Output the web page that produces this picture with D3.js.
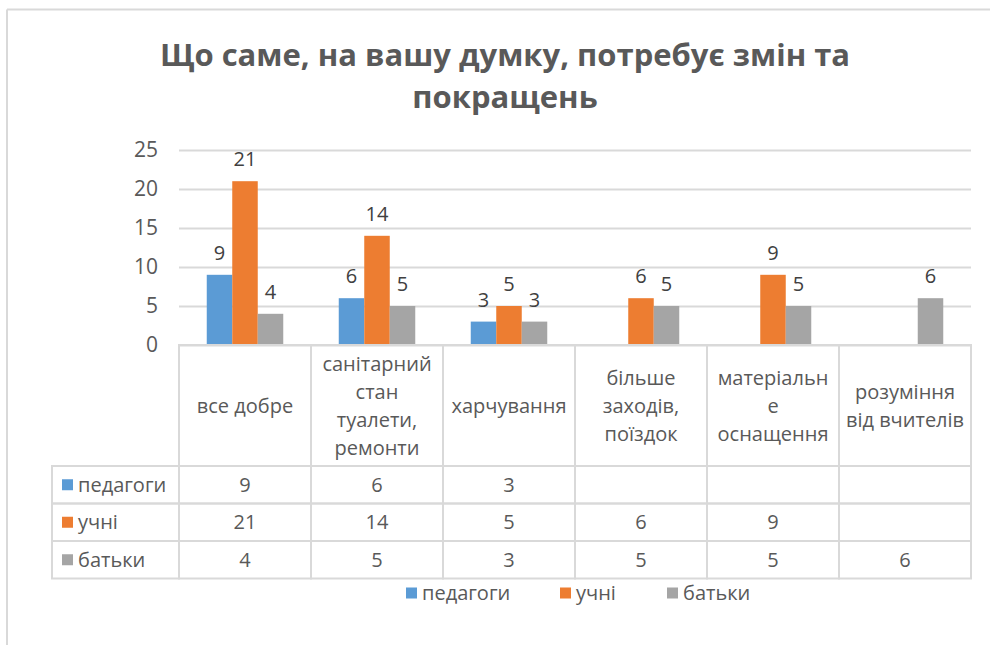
<!DOCTYPE html>
<html>
<head>
<meta charset="utf-8">
<script src="https://d3js.org/d3.v7.min.js"></script>
<style>
    body { margin: 0; background: #fff; font-family: 'Open Sans', sans-serif; }
    svg text { font-family: 'Open Sans', sans-serif; }
</style>
</head>
<body>
<div id="chart"></div>
<script>
// --- data ---
const categories = ["все добре", "санітарний\nстан\nтуалети,\nремонти", "харчування",
    "більше\nзаходів,\nпоїздок", "матеріальн\nе\nоснащення", "розуміння\nвід вчителів"]
const seriesNames = ["педагоги", "учні", "батьки"]
const pedagogy = [9, 6, 3, null, null, null]
const pupils = [21, 14, 5, 6, 9, null]
const parents = [4, 5, 3, 5, 5, 6]
const yTicks = [0, 5, 10, 15, 20, 25]
const titleLines = ["Що саме, на вашу думку, потребує змін та", "покращень"]

const seriesValues = [pedagogy, pupils, parents]
const colors = ["#5b9bd5", "#ed7d31", "#a5a5a5"]

const W = 990, H = 645
const svg = d3.select("#chart").append("svg")
    .attr("width", W).attr("height", H)

// outer frame (only top and left edges are visible in the original)
svg.append("line").attr("x1", 7).attr("x2", W).attr("y1", 9.5).attr("y2", 9.5)
    .attr("stroke", "#d9d9d9").attr("stroke-width", 2)
svg.append("line").attr("x1", 7).attr("x2", 7).attr("y1", 9.5).attr("y2", H)
    .attr("stroke", "#d9d9d9").attr("stroke-width", 2)

// title
svg.selectAll(".title").data(titleLines).enter().append("text")
    .attr("class", "title")
    .attr("x", 505).attr("y", (d, i) => 66 + i * 42)
    .attr("text-anchor", "middle")
    .style("font-size", "31px").style("font-weight", "bold")
    .attr("fill", "#595959")
    .text(d => d)

// scales
const x0 = d3.scaleBand().domain(categories).range([179, 971])
const barW = 25.5
const x1 = d3.scaleBand().domain(seriesNames)
    .range([(x0.bandwidth() - barW * 3) / 2, (x0.bandwidth() + barW * 3) / 2])
const y = d3.scaleLinear().domain([0, 25]).range([345, 150])

// grid
const yAxis = svg.append("g")
    .attr("transform", "translate(179,0)")
    .call(d3.axisLeft(y).tickValues(yTicks).tickSize(-(971 - 179)).tickPadding(21))
yAxis.select(".domain").remove()
yAxis.selectAll(".tick line").attr("stroke", "#d9d9d9").attr("stroke-width", 2)
yAxis.selectAll(".tick text").attr("fill", "#595959").style("font-size", "21px")
    .style("font-family", "'Open Sans', sans-serif")

// bars
const groups = svg.selectAll(".grp").data(categories).enter().append("g")
    .attr("transform", d => `translate(${x0(d)},0)`)

groups.each(function(cat, ci) {
    const g = d3.select(this)
    const vals = seriesNames.map((s, si) => ({s, si, v: seriesValues[si][ci]}))
        .filter(d => d.v != null)
    g.selectAll("rect").data(vals).enter().append("rect")
        .attr("x", d => x1(d.s))
        .attr("width", x1.bandwidth())
        .attr("y", d => y(d.v))
        .attr("height", d => y(0) - y(d.v))
        .attr("fill", d => colors[d.si])
    g.selectAll(".lbl").data(vals).enter().append("text")
        .attr("class", "lbl")
        .attr("x", d => x1(d.s) + x1.bandwidth() / 2)
        .attr("y", d => y(d.v) - 15)
        .attr("text-anchor", "middle")
        .attr("fill", "#404040")
        .style("font-size", "20px")
        .text(d => d.v)
})

// data table
const headTop = 345, headBot = 466, rowH = 37.5
const tableLeft = 52
const tbl = svg.append("g")
const border = "#d9d9d9"

// header cells
categories.forEach(c => {
    tbl.append("rect").attr("x", x0(c)).attr("y", headTop)
        .attr("width", x0.bandwidth()).attr("height", headBot - headTop)
        .attr("fill", "none").attr("stroke", border).attr("stroke-width", 2)
    const lines = c.split("\n")
    const lh = 28
    const cy = (headTop + headBot) / 2 - (lines.length - 1) * lh / 2
    const t = tbl.append("text")
        .attr("text-anchor", "middle").attr("fill", "#595959")
        .style("font-size", "20px")
    lines.forEach((ln, i) => {
        t.append("tspan").attr("x", x0(c) + x0.bandwidth() / 2)
            .attr("y", cy + i * lh).attr("dy", "0.35em").text(ln)
    })
})

// value rows
seriesNames.forEach((s, si) => {
    const top = headBot + si * rowH
    tbl.append("rect").attr("x", tableLeft).attr("y", top)
        .attr("width", 179 - tableLeft).attr("height", rowH)
        .attr("fill", "none").attr("stroke", border).attr("stroke-width", 2)
    tbl.append("rect").attr("x", 62).attr("y", top + rowH / 2 - 5.5)
        .attr("width", 11).attr("height", 11).attr("fill", colors[si])
    tbl.append("text").attr("x", 78).attr("y", top + rowH / 2).attr("dy", "0.35em")
        .attr("fill", "#595959").style("font-size", "20px").text(s)
    categories.forEach((c, ci) => {
        tbl.append("rect").attr("x", x0(c)).attr("y", top)
            .attr("width", x0.bandwidth()).attr("height", rowH)
            .attr("fill", "none").attr("stroke", border).attr("stroke-width", 2)
        const v = seriesValues[si][ci]
        if (v != null) {
            tbl.append("text").attr("x", x0(c) + x0.bandwidth() / 2)
                .attr("y", top + rowH / 2).attr("dy", "0.35em")
                .attr("text-anchor", "middle").attr("fill", "#595959")
                .style("font-size", "20px").text(v)
        }
    })
})

// legend
const legendX = [406, 560, 667]
const legend = svg.append("g")
seriesNames.forEach((s, i) => {
    legend.append("rect").attr("x", legendX[i]).attr("y", 593 - 5.5)
        .attr("width", 11).attr("height", 11).attr("fill", colors[i])
    legend.append("text").attr("x", legendX[i] + 16).attr("y", 593).attr("dy", "0.35em")
        .attr("fill", "#595959").style("font-size", "20px").text(s)
})
</script>
</body>
</html>
